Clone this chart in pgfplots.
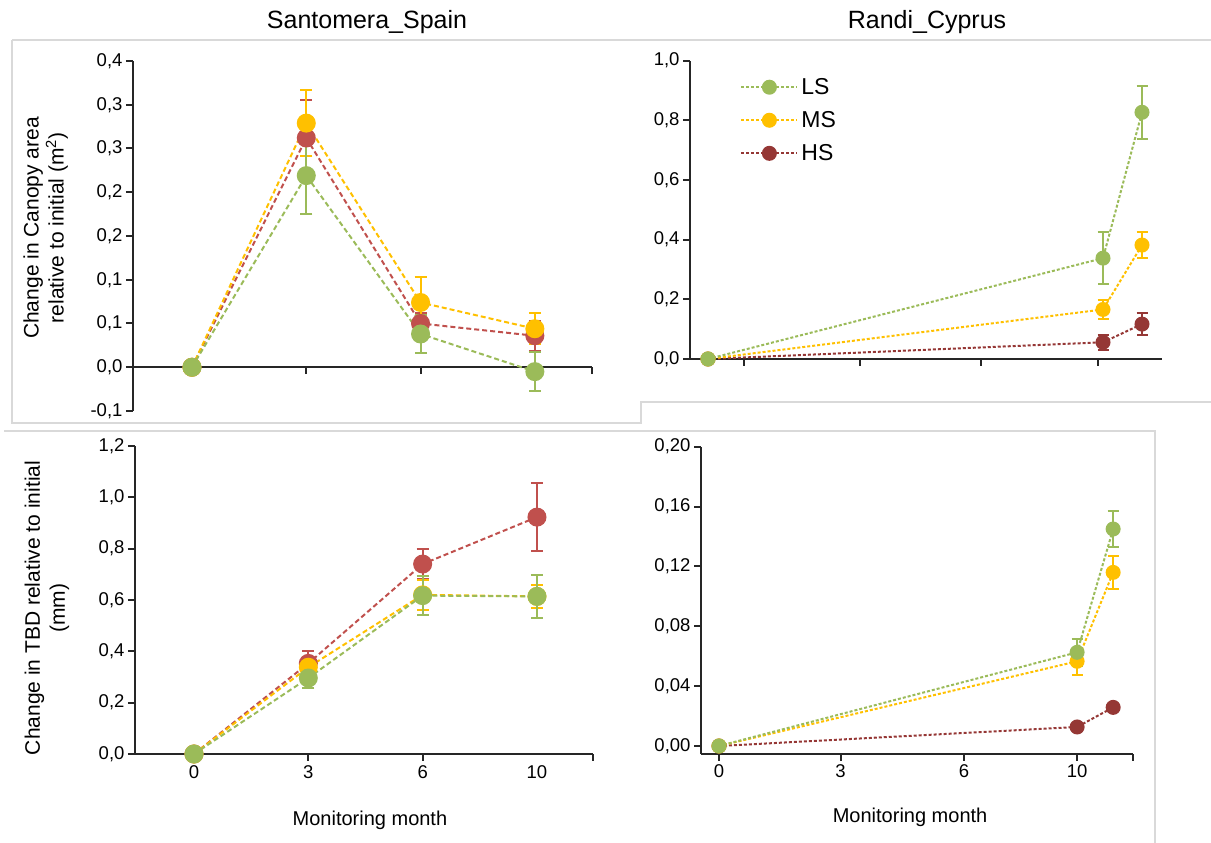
\documentclass[border=0pt]{standalone}
\usepackage{fontspec}
\setmainfont{Liberation Sans}
\usepackage{pgfplots}
\pgfplotsset{compat=1.18}

\definecolor{lsgreen}{HTML}{9BBB59}
\definecolor{msorange}{HTML}{FFC000}
\definecolor{hsred}{HTML}{C0504D}
\definecolor{hsdark}{HTML}{953735}
\definecolor{panelgray}{HTML}{D9D9D9}
\definecolor{axisgray}{HTML}{262626}

\newcommand\ticksize{\fontsize{18.5}{20}\selectfont}
\newcommand\labsize{\fontsize{21}{25}\selectfont}
\newcommand\titlesize{\fontsize{25}{28}\selectfont}

\pgfplotsset{
  panel/.style={
    scale only axis, anchor=south west, clip=false,
    axis line style={line width=2pt, axisgray, -},
    tick style={line width=2pt, axisgray},
    major tick length=7pt, tick align=outside,
    tick label style={font=\ticksize, text=black},
    label style={font=\labsize, text=black},
  },
  % Santomera panels: longer dashes, large markers
  sp/.style={
    color=#1, dash pattern=on 5pt off 3pt, line width=2pt,
    mark=*, mark size=8.5pt, mark options={solid, fill=#1, draw=#1},
    error bars/.cd, y dir=both, y explicit,
    error bar style={solid, line width=2pt, color=#1},
    error mark options={rotate=90, mark size=6pt, line width=2pt, solid, color=#1}
  },
  % Randi panels: finer dashes, smaller markers
  cy/.style={
    color=#1, dash pattern=on 3pt off 2pt, line width=2pt,
    mark=*, mark size=6.5pt, mark options={solid, fill=#1, draw=#1},
    error bars/.cd, y dir=both, y explicit,
    error bar style={solid, line width=2pt, color=#1},
    error mark options={rotate=90, mark size=5.5pt, line width=2pt, solid, color=#1}
  },
}

\begin{document}
\begin{tikzpicture}
\useasboundingbox (0,0) rectangle (1211pt,843pt);

% panel frames
\begin{scope}[panelgray, line width=1.5pt]
  \draw (12pt,803pt) -- (1211pt,803pt);
  \draw (12pt,803pt) -- (12pt,420pt) -- (641pt,420pt) -- (641pt,441pt) -- (1211pt,441pt);
  \draw (4pt,412pt) -- (1155pt,412pt) -- (1155pt,0pt);
\end{scope}

% column titles
\node[font=\titlesize] at (367pt,821pt) {Santomera\_Spain};
\node[font=\titlesize] at (927pt,821pt) {Randi\_Cyprus};

% ---------- Santomera: canopy area ----------
\begin{axis}[panel, at={(133pt,432pt)}, width=459pt, height=350pt,
  xmin=-0.516, xmax=3.5, ymin=-0.05, ymax=0.35,
  axis y line*=left, axis x line*=middle,
  xtick={1,2,3.5}, xticklabels={},
  ytick={-0.05,0,0.05,0.1,0.15,0.2,0.25,0.3,0.35},
  yticklabels={{-0,1},{0,0},{0,1},{0,1},{0,2},{0,2},{0,3},{0,3},{0,4}},
  ylabel={Change in Canopy area\\relative to initial (m\textsuperscript{2})},
  ylabel style={align=center, at={(axis description cs:-0.19,0.523)}, anchor=center},
]
\addplot[sp=hsred] coordinates {(0,0) +- (0,0) (1,0.262) +- (0,0.043) (2,0.050) +- (0,0.012) (3,0.036) +- (0,0.017)};
\addplot[sp=msorange] coordinates {(0,0) +- (0,0) (1,0.279) +- (0,0.038) (2,0.074) +- (0,0.029) (3,0.044) +- (0,0.018)};
\addplot[sp=lsgreen] coordinates {(0,0) +- (0,0) (1,0.219) +- (0,0.044) (2,0.038) +- (0,0.022) (3,-0.005) +- (0,0.022)};
\end{axis}

% ---------- Randi: canopy area ----------
\begin{axis}[panel, at={(690pt,484pt)}, width=472pt, height=298.3pt,
  xmin=-0.45, xmax=11.35, ymin=0, ymax=1,
  axis lines*=left,
  xtick={0.9,3.8,6.825,9.75}, xticklabels={},
  ytick={0,0.2,0.4,0.6,0.8,1},
  yticklabels={{0,0},{0,2},{0,4},{0,6},{0,8},{1,0}},
  reverse legend, legend cell align=left,
  legend style={at={(axis description cs:0.10,0.958)}, anchor=north west,
    draw=none, fill=none, font=\fontsize{23}{25}\selectfont, row sep=9.5pt,
    nodes={inner sep=3pt}},
  legend image code/.code={\draw[mark repeat=2, mark phase=2, #1] plot coordinates {(0pt,0pt) (28pt,0pt) (56pt,0pt)};},
]
\addplot[cy=hsdark] coordinates {(0,0) +- (0,0) (9.875,0.056) +- (0,0.026) (10.85,0.117) +- (0,0.038)};
\addlegendentry{HS}
\addplot[cy=msorange] coordinates {(0,0) +- (0,0) (9.875,0.166) +- (0,0.031) (10.85,0.382) +- (0,0.043)};
\addlegendentry{MS}
\addplot[cy=lsgreen] coordinates {(0,0) +- (0,0) (9.875,0.338) +- (0,0.088) (10.85,0.827) +- (0,0.088)};
\addlegendentry{LS}
\end{axis}

% ---------- Santomera: TBD ----------
\begin{axis}[panel, at={(135pt,89pt)}, width=458pt, height=308pt,
  xmin=-0.516, xmax=3.49, ymin=0, ymax=1.2,
  axis lines*=left,
  xtick={1,2,3.49}, xticklabels={},
  extra x ticks={0,1,2,3}, extra x tick labels={0,3,6,10},
  extra x tick style={major tick length=0pt, tick label style={yshift=-8pt}},
  ytick={0,0.2,0.4,0.6,0.8,1,1.2},
  yticklabels={{0,0},{0,2},{0,4},{0,6},{0,8},{1,0},{1,2}},
  ylabel={Change in TBD relative to initial\\(mm)},
  ylabel style={align=center, at={(axis description cs:-0.192,0.474)}, anchor=center},
  xlabel={Monitoring month},
  xlabel style={font=\fontsize{20}{22}\selectfont, at={(axis description cs:0.513,-0.214)}, anchor=center},
]
\addplot[sp=hsred] coordinates {(0,0) +- (0,0) (1,0.353) +- (0,0.05) (2,0.740) +- (0,0.06) (3,0.923) +- (0,0.133)};
\addplot[sp=msorange] coordinates {(0,0) +- (0,0) (1,0.338) +- (0,0.04) (2,0.620) +- (0,0.058) (3,0.614) +- (0,0.045)};
\addplot[sp=lsgreen] coordinates {(0,0) +- (0,0) (1,0.296) +- (0,0.04) (2,0.617) +- (0,0.077) (3,0.614) +- (0,0.083)};
\end{axis}

% ---------- Randi: TBD ----------
\begin{axis}[panel, at={(701pt,89pt)}, width=432pt, height=307.3pt,
  xmin=-0.444, xmax=10.22, ymin=-0.00535, ymax=0.2,
  axis lines*=left,
  xtick={0,3,6.05,8.84,10.22}, xticklabels={0,3,6,10,{}},
  ytick={0,0.04,0.08,0.12,0.16,0.2},
  yticklabels={{0,00},{0,04},{0,08},{0,12},{0,16},{0,20}},
  xlabel={Monitoring month},
  xlabel style={font=\fontsize{20}{22}\selectfont, at={(axis description cs:0.484,-0.205)}, anchor=center},
]
\addplot[cy=hsdark] coordinates {(0,0) +- (0,0) (8.84,0.0127) +- (0,0.001) (9.73,0.0258) +- (0,0.001)};
\addplot[cy=msorange] coordinates {(0,0) +- (0,0) (8.84,0.0566) +- (0,0.009) (9.73,0.116) +- (0,0.011)};
\addplot[cy=lsgreen] coordinates {(0,0) +- (0,0) (8.84,0.0626) +- (0,0.009) (9.73,0.145) +- (0,0.012)};
\end{axis}
\end{tikzpicture}
\end{document}
